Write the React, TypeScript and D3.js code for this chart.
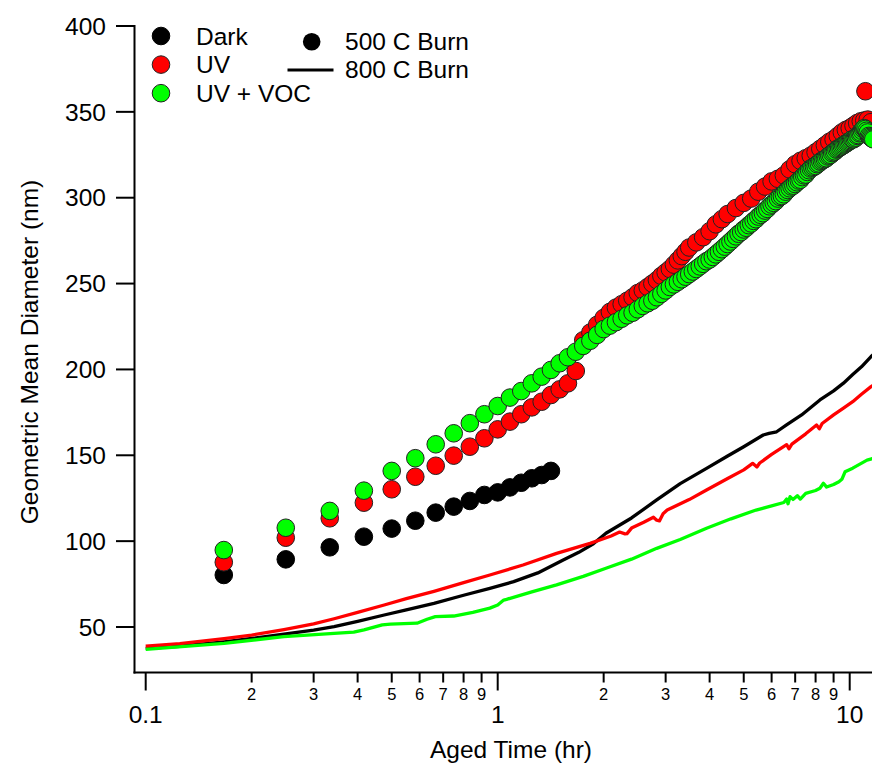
import React from "react";
import * as d3 from "d3";

// ---------- DATA ----------
// 500 C burn, aged samples: [minutes, geometric mean diameter nm]
const darkPoints: [number, number][] = [
  [10, 80.3], [15, 89.4], [20, 96.4], [25, 102.6], [30, 107.3], [35, 111.9], [40, 116.6], [45, 120.1],
  [50, 123.4], [55, 126.9], [60, 128.4], [65, 131.3], [70, 134], [75, 136.6], [80, 138.5], [85, 140.9],
];

const uvPoints: [number, number][] = [
  [10, 87.7], [15, 102.0], [20, 113.3], [25, 122.4], [30, 130.2], [35, 137.5], [40, 143.9], [45, 149.8],
  [50, 155.0], [55, 159.9], [60, 165.1], [65, 169.6], [70, 173.9], [75, 177.9], [80, 181.2], [85, 185.1],
  [90, 188.4], [95, 191.9], [100, 199.1],
  [105, 217], [110, 221.5], [115, 226], [120, 230], [125, 233.5], [130, 236], [135, 238], [140, 240],
  [145, 242], [150, 244.5], [155, 246], [160, 248], [165, 250], [170, 252], [175, 254.5], [180, 256.5],
  [185, 258.5], [190, 261], [195, 263.5], [200, 266], [205, 268.5], [210, 271],
  [220, 274], [230, 277], [240, 280.5], [250, 284.5], [260, 287.5], [270, 290.5],
  [285, 294], [300, 297], [315, 299.5], [330, 303.5], [345, 306.5], [360, 309.5], [375, 311], [390, 313],
  [405, 316.5], [420, 319.5], [435, 321.5], [450, 323], [465, 324.5], [480, 326.5], [495, 328.5],
  [510, 330.5], [525, 332.5], [540, 334], [555, 336], [570, 338], [585, 339.5], [600, 340.5],
  [615, 342], [630, 343.5], [645, 344.5], [660, 345], [665, 362], [675, 345.5], [690, 344],
];

const uvVocPoints: [number, number][] = [
  [10, 94.8], [15, 107.8], [20, 117.6], [25, 129.4], [30, 140.9], [35, 148.3], [40, 156.4], [45, 162.8],
  [50, 168.7], [55, 173.9], [60, 178.7], [65, 183.6], [70, 187.4], [75, 191.9], [80, 195.8], [85, 199.7],
  [90, 203.6], [95, 207.1], [100, 210.3], [105, 213.7], [110, 216.7], [115, 220.1], [120, 223.5],
  [125, 225.5], [130, 227.5], [135, 229.5], [140, 231.5], [145, 233], [150, 235], [155, 237], [160, 238.5],
  [165, 240], [170, 242], [175, 244], [180, 246], [185, 248], [190, 249.5], [195, 251], [200, 252.5],
  [205, 254], [210, 255.5], [215, 257], [220, 258.5], [225, 260], [230, 261.5], [235, 263], [240, 264],
  [245, 265.5], [250, 267], [255, 268.5], [260, 270], [265, 271.5], [270, 273], [275, 274.5], [280, 276],
  [285, 277.5], [290, 279], [295, 280], [300, 281.5], [305, 282.5], [310, 284], [315, 285], [320, 286.5],
  [325, 287.5], [330, 289], [335, 290], [340, 291], [345, 292.5], [350, 293.5], [355, 295], [360, 296],
  [365, 297], [370, 298], [375, 299.5], [380, 300.5], [385, 301], [390, 302], [395, 303.5], [400, 304.5],
  [405, 305.5], [410, 306.5], [415, 307], [420, 308], [425, 309], [430, 310], [435, 310.5], [440, 312],
  [445, 313], [450, 313.5], [455, 315], [460, 316], [465, 317], [470, 317.5], [475, 318], [480, 318.5],
  [485, 319.5], [490, 320], [495, 321], [500, 321.5], [505, 322], [510, 322.5], [515, 323], [520, 324],
  [525, 324.5], [530, 325], [535, 326], [540, 326.5], [545, 327], [550, 328], [555, 328.5], [560, 329],
  [565, 329.5], [570, 330], [575, 330.5], [580, 331], [585, 331.5], [590, 332], [595, 332.5], [600, 333],
  [605, 333.5], [610, 334], [615, 334], [620, 334.5], [625, 335], [630, 336], [635, 336.5], [640, 337.5],
  [645, 338], [650, 339], [655, 340], [660, 340.5], [665, 340], [670, 339], [675, 338], [680, 336],
  [685, 335.5], [690, 335], [695, 334.5], [700, 334],
];

// 800 C burn traces: [hours, nm]
const darkLine: [number, number][] = [
  [0.1, 37.6], [0.125, 38.8], [0.167, 41.4], [0.2, 43.3], [0.247, 45.9], [0.3, 48.2], [0.343, 50.2],
  [0.4, 53.3], [0.476, 57], [0.55, 60], [0.659, 63.8], [0.8, 68.5], [0.95, 72.5], [1.11, 76.4],
  [1.3, 81.5], [1.535, 89], [1.7, 93.5], [1.87, 98.5], [2.03, 104.6], [2.4, 113.5], [2.83, 124],
  [3.3, 133.5], [3.92, 142.4], [4.5, 149.6], [5.0, 155], [5.68, 161.8], [5.9, 162.8], [6.2, 163.7],
  [6.6, 167.5], [7.3, 173.5], [8.23, 182.2], [9.0, 187.5], [9.6, 192], [10.2, 197], [10.8, 201.5],
  [11.5, 207.5], [12, 211],
];

const uvLine: [number, number][] = [
  [0.1, 38.8], [0.125, 40.3], [0.167, 43.2], [0.2, 45.3], [0.247, 48.5], [0.3, 51.8], [0.343, 54.8],
  [0.4, 58.5], [0.476, 62.8], [0.55, 66.5], [0.659, 70.8], [0.8, 75.8], [0.95, 80.3], [1.18, 86.1],
  [1.47, 92.9], [1.83, 98.7], [2.1, 103], [2.22, 105.3], [2.3, 104.2], [2.33, 104.4], [2.4, 107.6],
  [2.6, 111], [2.77, 113.9], [2.83, 112.2], [2.88, 111.8], [2.95, 116], [3.03, 118.1], [3.5, 124.2],
  [3.92, 129.8], [4.5, 136.5], [5.0, 141.5], [5.3, 145.3], [5.45, 143.2], [5.55, 145.5], [6.0, 150.5],
  [6.62, 156.2], [6.72, 153.8], [6.85, 156.5], [7.5, 162.5], [8.05, 167.6], [8.2, 165.4], [8.35, 168.5],
  [9.0, 173.5], [9.6, 177.5], [10.2, 181.2], [10.8, 185.5], [11.5, 190], [12, 192.5],
];

const uvVocLine: [number, number][] = [
  [0.1, 37], [0.167, 40.5], [0.247, 44.4], [0.343, 46.3], [0.39, 47], [0.417, 48.3], [0.47, 51.2],
  [0.496, 51.7], [0.59, 52.2], [0.63, 54.5], [0.665, 56], [0.75, 56.4], [0.85, 58.5], [0.95, 61],
  [1.0, 62.8], [1.04, 65.7], [1.06, 66.1], [1.25, 70.5], [1.47, 74.5], [1.75, 79.5], [2.03, 84.2],
  [2.4, 89.5], [2.83, 95.8], [3.3, 101], [3.92, 107.5], [4.6, 113], [5.42, 118.1], [6.0, 120.5],
  [6.5, 122.5], [6.62, 124.5], [6.68, 121.8], [6.77, 125.9], [6.9, 124.3], [7.1, 126.5], [7.24, 124.5],
  [7.5, 127.8], [8.0, 129.5], [8.23, 130.8], [8.42, 133.7], [8.6, 131.5], [9.0, 133], [9.32, 134.6],
  [9.5, 136], [9.7, 140.4], [10.2, 142.5], [11.2, 147.2], [11.6, 148], [12, 149.5],
];

const yTicks = [50, 100, 150, 200, 250, 300, 350, 400];
const xMajorTicks = [0.1, 1, 10];
const xMajorLabels = ["0.1", "1", "10"];
const xMinorTicks = [0.2, 0.3, 0.4, 0.5, 0.6, 0.7, 0.8, 0.9, 2, 3, 4, 5, 6, 7, 8, 9];
const xMinorLabels = ["2", "3", "4", "5", "6", "7", "8", "9", "2", "3", "4", "5", "6", "7", "8", "9"];

const legendMarkers = [
  { label: "Dark", color: "#000000" },
  { label: "UV", color: "#ff0000" },
  { label: "UV + VOC", color: "#00ff00" },
];

// ---------- LAYOUT ----------
const W = 872;
const H = 763;
const FONT = "'Liberation Sans', Arial, Helvetica, sans-serif";
const FS = 24.5;
const axisX = 134.5;
const axisY = 672.5;

const x = d3.scaleLog().domain([0.1, 10]).range([145.7, 849.7]);
const y = d3.scaleLinear().domain([50, 400]).range([627, 26]);

const line = d3
  .line<[number, number]>()
  .x((d) => x(d[0]))
  .y((d) => y(d[1]));

const R = 8.8;

function Markers({ data, fill, stroke }: { data: [number, number][]; fill: string; stroke: string }) {
  return (
    <g>
      {data.map((d, i) => (
        <circle key={i} cx={x(d[0] / 60)} cy={y(d[1])} r={R} fill={fill} stroke={stroke} strokeWidth={1} />
      ))}
    </g>
  );
}

export default function App() {
  return (
    <svg
      width={W}
      height={H}
      viewBox={`0 0 ${W} ${H}`}
      style={{ position: "absolute", left: 0, top: 0, background: "#fff" }}
      fontFamily={FONT}
    >
      <rect x={0} y={0} width={W} height={H} fill="#fff" />

      {/* 800 C burn lines */}
      <path d={line(darkLine) || ""} fill="none" stroke="#000" strokeWidth={3.3} strokeLinejoin="round" />
      <path d={line(uvLine) || ""} fill="none" stroke="#ff0000" strokeWidth={3.3} strokeLinejoin="round" />
      <path d={line(uvVocLine) || ""} fill="none" stroke="#00ff00" strokeWidth={3.3} strokeLinejoin="round" />

      {/* 500 C burn markers */}
      <Markers data={darkPoints} fill="#000" stroke="#000" />
      <Markers data={uvPoints} fill="#ff0000" stroke="#222" />
      <Markers data={uvVocPoints} fill="#00ff00" stroke="#222" />

      {/* axes */}
      <line x1={axisX} x2={axisX} y1={25} y2={axisY + 1} stroke="#000" strokeWidth={2} />
      <line x1={axisX - 1} x2={W + 5} y1={axisY} y2={axisY} stroke="#000" strokeWidth={2} />

      {yTicks.map((t) => (
        <g key={"y" + t}>
          <line x1={116} x2={axisX} y1={y(t)} y2={y(t)} stroke="#000" strokeWidth={2} />
          <text x={106} y={y(t) + 8.7} textAnchor="end" fontSize={FS} fill="#000">
            {t}
          </text>
        </g>
      ))}

      {xMajorTicks.map((t, i) => (
        <g key={"xm" + t}>
          <line x1={x(t)} x2={x(t)} y1={axisY} y2={axisY + 18} stroke="#000" strokeWidth={2} />
          <text x={x(t)} y={722.7} textAnchor="middle" fontSize={FS} fill="#000">
            {xMajorLabels[i]}
          </text>
        </g>
      ))}
      {xMinorTicks.map((t, i) => (
        <g key={"xn" + t}>
          <line x1={x(t)} x2={x(t)} y1={axisY} y2={axisY + 10} stroke="#000" strokeWidth={2} />
          <text x={x(t)} y={700} textAnchor="middle" fontSize={16.5} fill="#000">
            {xMinorLabels[i]}
          </text>
        </g>
      ))}

      {/* axis titles */}
      <text x={511} y={758} textAnchor="middle" fontSize={FS} fill="#000">
        Aged Time (hr)
      </text>
      <text transform="translate(38,352) rotate(-90)" textAnchor="middle" fontSize={FS} fill="#000">
        Geometric Mean Diameter (nm)
      </text>

      {/* legend */}
      {legendMarkers.map((m, i) => (
        <g key={m.label}>
          <circle
            cx={161}
            cy={36 + i * 28.6}
            r={R}
            fill={m.color}
            stroke={m.color === "#000000" ? "#000" : "#222"}
            strokeWidth={1}
          />
          <text x={196} y={36 + i * 28.6 + 8.6} fontSize={FS} fill="#000">
            {m.label}
          </text>
        </g>
      ))}
      <circle cx={311.7} cy={41.7} r={R} fill="#000" />
      <text x={345} y={50} fontSize={FS} fill="#000">
        500 C Burn
      </text>
      <line x1={287.5} x2={333.5} y1={70} y2={70} stroke="#000" strokeWidth={3} />
      <text x={345} y={78.2} fontSize={FS} fill="#000">
        800 C Burn
      </text>
    </svg>
  );
}
